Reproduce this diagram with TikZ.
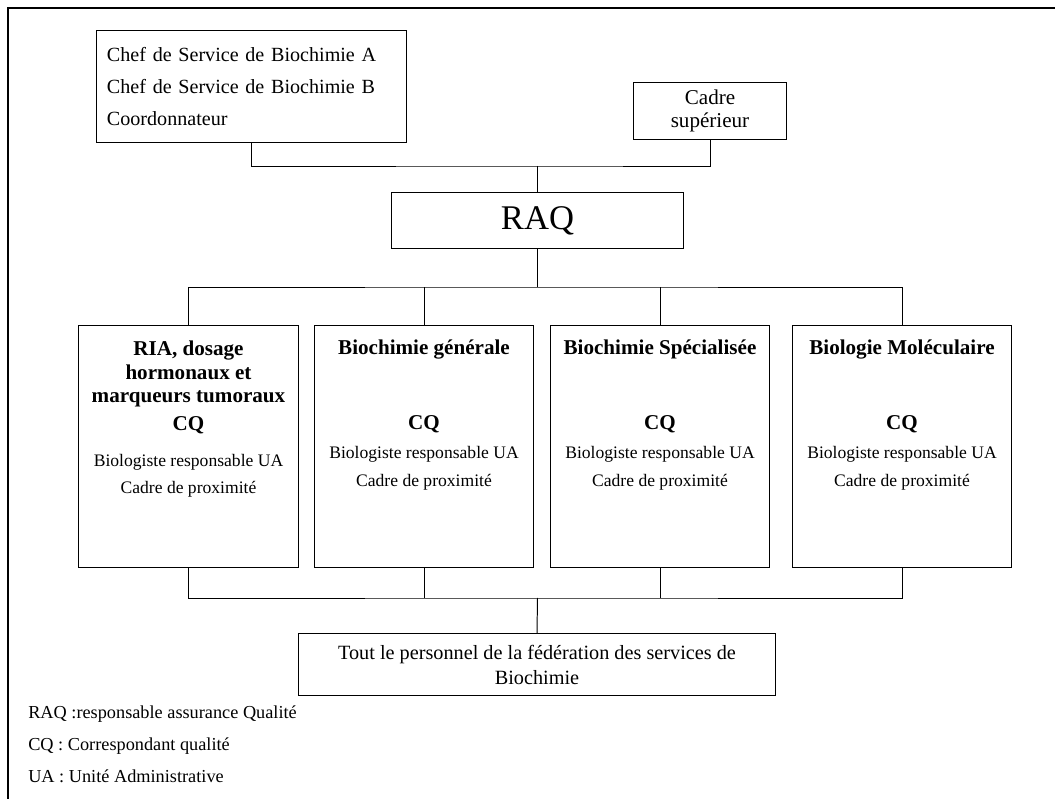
\documentclass[tikz,border=0pt]{standalone}
\usepackage{fontspec}
\setmainfont{Liberation Serif}
\usetikzlibrary{positioning, calc}
\tikzset{
	box/.style      ={rectangle, draw=black, line width=0.7pt, inner sep=0pt, align=center},
	unitbox/.style  ={rectangle, draw=black, line width=0.7pt, minimum width=5.475cm, minimum height=6.025cm},
	unithead/.style ={anchor=north, align=center, inner sep=0pt, font=\fontsize{15}{16.8}\selectfont\bfseries},
	unitcq/.style   ={anchor=base, inner sep=0pt, font=\fontsize{15}{16.8}\selectfont\bfseries},
	unitstaff/.style={anchor=north, align=center, inner sep=0pt, font=\fontsize{12.5}{19.5}\selectfont},
	legend/.style   ={anchor=base west, inner sep=0pt, font=\fontsize{13}{15}\selectfont},
	link/.style     ={line width=0.7pt},
	frameline/.style={line width=2.1pt},
}
\begin{document}
\begin{tikzpicture}[x=0.025cm, y=-0.025cm]
	\useasboundingbox (0,0) rectangle (1055,799);
	\draw[frameline] (1055,8) -- (8,8) -- (8,799);
	% direction
	\node[box, align=left, text width=7.225cm, inner xsep=0.25cm, minimum height=2.775cm, font=\fontsize{14.3}{23}\selectfont] (chefs) at (251.5,86.5) {Chef de Service de Biochimie A\\Chef de Service de Biochimie B\\Coordonnateur};
	\node[box, minimum width=3.8cm, minimum height=1.4cm, font=\fontsize{15}{16.4}\selectfont] (cadre) at (710,111) {Cadre\\supérieur};
	\node[box, minimum width=7.275cm, minimum height=1.375cm, font=\fontsize{24.6}{28}\selectfont] (raq) at (537.5,220.5) {RAQ};
	\coordinate (topbus) at (537.5,166);
	\draw[link] (chefs.south) |- (topbus) -| (cadre.south);
	\draw[link] (topbus) -- (raq.north);
	% units
	\node[unitbox] (ria) at (188.5,446.5) {};
	\node[unitbox] (gen) at (424,446.5) {};
	\node[unitbox] (spe) at (660,446.5) {};
	\node[unitbox] (mol) at (902,446.5) {};
	\node[unithead] (riah) at (188.5,340.5) {RIA, dosage\\hormonaux et\\marqueurs tumoraux};
	\node[unithead] (genh) at (424,339.5) {Biochimie générale};
	\node[unithead] (speh) at (660,339.5) {Biochimie Spécialisée};
	\node[unithead] (molh) at (902,339.5) {Biologie Moléculaire};
	\node[unitcq] (riacq) at (188.5,431) {CQ};
	\node[unitcq] (gencq) at (424,430) {CQ};
	\node[unitcq] (specq) at (660,430) {CQ};
	\node[unitcq] (molcq) at (902,430) {CQ};
	\node[unitstaff] (rias) at (188.5,454) {Biologiste responsable UA\\Cadre de proximité};
	\node[unitstaff] (gens) at (424,446.5) {Biologiste responsable UA\\Cadre de proximité};
	\node[unitstaff] (spes) at (660,446.5) {Biologiste responsable UA\\Cadre de proximité};
	\node[unitstaff] (mols) at (902,446.5) {Biologiste responsable UA\\Cadre de proximité};
	\coordinate (midbus) at (537.5,287);
	\draw[link] (raq.south) -- (midbus);
	\draw[link] (ria.north) |- (midbus) -| (mol.north);
	\draw[link] (gen.north) -- (gen.north |- midbus);
	\draw[link] (spe.north) -- (spe.north |- midbus);
	% personnel
	\node[box, minimum width=11.9cm, minimum height=1.525cm, font=\fontsize{14.4}{17.8}\selectfont] (staff) at (537,664.5) {Tout le personnel de la fédération des services de\\Biochimie};
	\coordinate (lowbus) at (537.5,598);
	\draw[link] (ria.south) |- (lowbus) -| (mol.south);
	\draw[link] (gen.south) -- (gen.south |- lowbus);
	\draw[link] (spe.south) -- (spe.south |- lowbus);
	\draw[link] (lowbus) -- (staff.north);
	% legend
	\node[legend] (lraq) at (28,719) {RAQ :responsable assurance Qualité};
	\node[legend] (lcq) at (28,751) {CQ : Correspondant qualité};
	\node[legend] (lua) at (28,783) {UA : Unité Administrative};
\end{tikzpicture}
\end{document}
